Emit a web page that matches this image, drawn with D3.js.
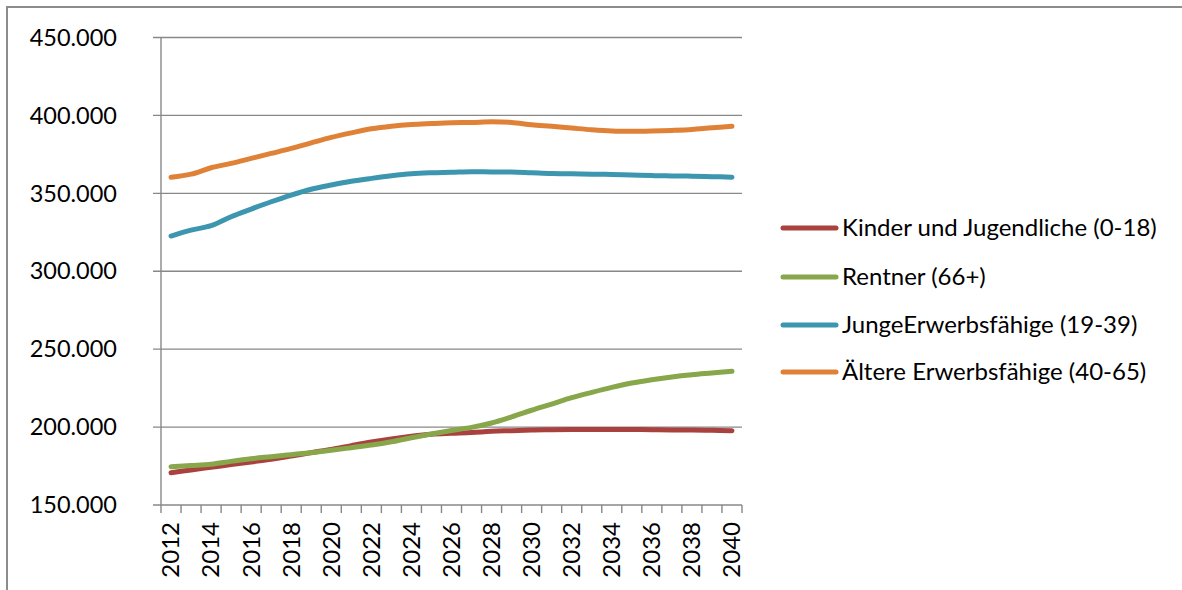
<!DOCTYPE html>
<html>
<head>
<meta charset="utf-8">
<script src="https://cdn.jsdelivr.net/npm/d3@7"></script>
<style>
  html, body { margin: 0; padding: 0; background: #fff; overflow: hidden; }
  svg { display: block; }
  text { font-family: Lato, "Noto Sans", sans-serif; fill: #000; }
</style>
</head>
<body>
<svg id="chart" width="1182" height="590"></svg>
<script>
const years = d3.range(2012, 2041).map(String);
const yTicks = [150000, 200000, 250000, 300000, 350000, 400000, 450000];
const seriesNames = ["Kinder und Jugendliche (0-18)", "Rentner (66+)", "JungeErwerbsfähige (19-39)", "Ältere Erwerbsfähige (40-65)"];
const seriesColors = ["#A9423F", "#88A64A", "#3D96AF", "#DF8238"];
const kinder = [170700,172500,174200,175900,177600,179300,181400,183600,185700,188100,190400,192400,194100,195400,196000,196500,197300,197700,198100,198300,198500,198500,198500,198500,198300,198100,198100,197900,197700];
const rentner = [174600,175300,176100,178000,179700,181000,182300,183600,185100,186800,188500,190600,193200,195600,197800,199800,202600,206500,210800,214800,218900,222300,225500,228300,230400,232200,233600,234700,235800];
const junge = [322600,326400,329200,335000,339900,344600,348900,352600,355300,357700,359600,361300,362600,363200,363500,363900,363700,363700,363200,362700,362500,362300,362100,361800,361400,361200,361000,360700,360400];
const aeltere = [360300,362300,366400,369200,372400,375600,378800,382400,385900,388800,391400,393100,394200,394800,395300,395500,395900,395500,394000,393000,391900,390800,390000,389800,390000,390400,391000,392100,393000];
const seriesValues = [kinder, rentner, junge, aeltere];

(function () {
const svg = d3.select("#chart");
const gridColor = "#888888";

// outer frame: only top and left edges are visible in the picture
svg.append("line").attr("x1", 7).attr("x2", 1182).attr("y1", 7).attr("y2", 7)
  .attr("stroke", "#8c8c8c").attr("stroke-width", 2);
svg.append("line").attr("x1", 7).attr("x2", 7).attr("y1", 6).attr("y2", 590)
  .attr("stroke", "#8c8c8c").attr("stroke-width", 2);

const pLeft = 161, pRight = 742, pTop = 37.5, pBottom = 505;
const x = d3.scaleBand().domain(years).range([pLeft, pRight]).padding(0);
const y = d3.scaleLinear().domain([150000, 450000]).range([pBottom, pTop]);

// gridlines + y ticks
svg.append("g").selectAll("line").data(yTicks).join("line")
  .attr("x1", pLeft - 8).attr("x2", pRight)
  .attr("y1", d => y(d)).attr("y2", d => y(d))
  .attr("stroke", gridColor).attr("stroke-width", 1.4);

// y axis line
svg.append("line").attr("x1", pLeft).attr("x2", pLeft).attr("y1", pTop).attr("y2", pBottom)
  .attr("stroke", gridColor).attr("stroke-width", 1.4);

// y labels
const fmt = d => d3.format(",")(d).replace(/,/g, ".");
svg.append("g").selectAll("text").data(yTicks).join("text")
  .attr("x", 117).attr("y", d => y(d)).attr("dy", "0.35em")
  .attr("text-anchor", "end").attr("font-size", 23.5)
  .text(fmt);

// x axis ticks at band boundaries
const boundaries = years.map(d => x(d)).concat([pRight]);
svg.append("g").selectAll("line").data(boundaries).join("line")
  .attr("x1", d => d).attr("x2", d => d).attr("y1", pBottom).attr("y2", pBottom + 8)
  .attr("stroke", gridColor).attr("stroke-width", 1.4);

// x labels (every second year)
svg.append("g").selectAll("text").data(years.filter((d, i) => i % 2 === 0)).join("text")
  .attr("transform", d => `translate(${x(d) + x.bandwidth() / 2},${pBottom + 17}) rotate(-90)`)
  .attr("dy", "0.35em").attr("text-anchor", "end").attr("font-size", 24)
  .text(d => d);

// lines
const line = d3.line()
  .x((d, i) => x(years[i]) + x.bandwidth() / 2)
  .y(d => y(d))
  .curve(d3.curveCatmullRom.alpha(0.5));

seriesValues.forEach((vals, si) => {
  svg.append("path").datum(vals)
    .attr("d", line)
    .attr("fill", "none").attr("stroke", seriesColors[si])
    .attr("stroke-width", 5).attr("stroke-linecap", "round").attr("stroke-linejoin", "round");
});

// legend
const legendY = [228, 277, 325, 372];
const lg = svg.append("g");
seriesNames.forEach((name, i) => {
  lg.append("line").attr("x1", 783).attr("x2", 836).attr("y1", legendY[i]).attr("y2", legendY[i])
    .attr("stroke", seriesColors[i]).attr("stroke-width", 5).attr("stroke-linecap", "round");
  lg.append("text").attr("x", 842).attr("y", legendY[i]).attr("dy", "0.35em")
    .attr("font-size", 24).text(name);
});
})();
</script>
</body>
</html>
